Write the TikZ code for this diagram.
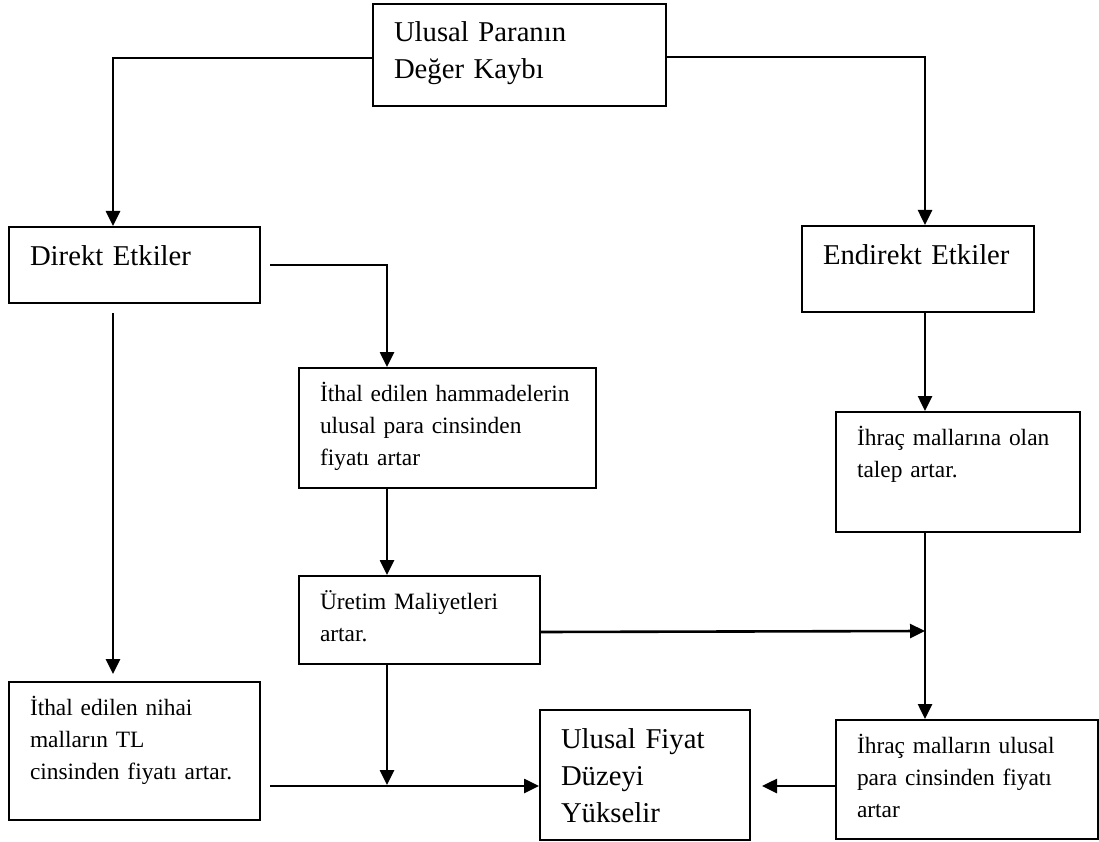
\documentclass[tikz,border=0pt]{standalone}
\usepackage{fontspec}
\setmainfont{Liberation Serif}
\usepackage{tikz}
\usetikzlibrary{arrows.meta, positioning}

\newcommand{\bigsize}{\fontsize{28.7pt}{37pt}\selectfont}
\newcommand{\smallsize}{\fontsize{23.4pt}{32pt}\selectfont}

\begin{document}
\begin{tikzpicture}[
  x=1pt, y=-1pt,
  effect/.style={draw, line width=2pt, anchor=north west, inner xsep=15pt, inner ysep=0pt,
    execute at begin node={\leftskip=6pt\relax}},
  mainbox/.style 2 args={effect, font=\bigsize, text width={#1-30pt}, text height=38pt, text depth={#2-38pt}},
  subbox/.style 2 args={effect, font=\smallsize, text width={#1-30pt}, text height=33pt, text depth={#2-33pt}},
  line/.style={draw, line width=2.6pt, -{Triangle[length=15pt,width=14pt]}}
]
  \useasboundingbox (0,0) rectangle (1099,842);

  \node [mainbox={293pt}{102pt}] (top) at (372,3) {Ulusal Paranın\\Değer Kaybı};
  \node [mainbox={251pt}{76pt}] (direct) at (8,226) {Direkt Etkiler};
  \node [mainbox={232pt}{86pt}] (indirect) at (801,225) {Endirekt Etkiler};
  \node [subbox={297pt}{120pt}] (rawmat) at (298,367) {İthal edilen hammadelerin\\ulusal para cinsinden\\fiyatı artar};
  \node [subbox={241pt}{88pt}] (cost) at (298,575) {Üretim Maliyetleri\\artar.};
  \node [subbox={244pt}{120pt}] (demand) at (835,411) {İhraç mallarına olan\\talep artar.};
  \node [subbox={251pt}{138pt}] (finalgoods) at (8,681) {İthal edilen nihai\\malların TL\\cinsinden fiyatı artar.};
  \node [mainbox={210pt}{130pt}] (price) at (539,709) {Ulusal Fiyat\\Düzeyi\\Yükselir};
  \node [subbox={262pt}{119pt}] (export) at (835,719) {İhraç malların ulusal\\para cinsinden fiyatı\\artar};

  \coordinate (joint) at (925,631);
  \coordinate (merge) at (387,785);

  \draw [line] ([yshift=-3pt]top.west) -| ([xshift=105pt]direct.north west);
  \draw [line] ([yshift=-2pt]top.east) -| ([xshift=124pt]indirect.north west);

  \draw [line] ([xshift=9pt]direct.east) -| ([xshift=89pt]rawmat.north west);
  \draw [line] ([xshift=105pt,yshift=-9pt]direct.south west) -- ([xshift=105pt,yshift=7pt]finalgoods.north west);
  \draw [line] ([xshift=89pt]rawmat.south west) -- ([xshift=89pt]cost.north west);

  \draw [line] ([xshift=124pt]indirect.south west) -- ([xshift=90pt]demand.north west);
  \draw [line] ([xshift=90pt]demand.south west) -- ([xshift=90pt]export.north west);
  \draw [line] ([yshift=-12pt]cost.east) -- (joint);

  \draw [line] ([xshift=89pt]cost.south west) -- (merge);
  \draw [line] ([xshift=9pt,yshift=-35pt]finalgoods.east) -- ([yshift=-11pt]price.west);
  \draw [line] ([yshift=-6.5pt]export.west) -- ([xshift=11pt,yshift=-11pt]price.east);
\end{tikzpicture}
\end{document}
